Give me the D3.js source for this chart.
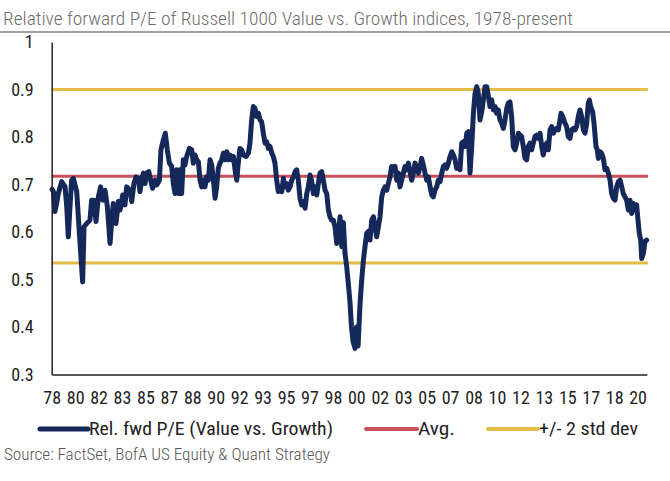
<!DOCTYPE html>
<html>
<head>
<meta charset="utf-8">
<script src="https://cdn.jsdelivr.net/npm/d3@7"></script>
<style>
  html, body { margin: 0; padding: 0; background: #fff; }
  svg { display: block; }
  text { font-family: "Liberation Sans Narrow", "Roboto Condensed", "DejaVu Sans Condensed", "Liberation Sans", sans-serif; }
</style>
</head>
<body>
<svg id="chart" width="670" height="481"></svg>
<script>
// ---- Data ----
const titleText = "Relative forward P/E of Russell 1000 Value vs. Growth indices, 1978-present";
const sourceText = "Source: FactSet, BofA US Equity & Quant Strategy";

// Decimal years of each observation
const years = [
  1978.78,1978.87,1978.98,1979.10,1979.22,1979.46,1979.70,1979.82,1979.93,1980.05,1980.17,1980.29,1980.53,1980.72,1980.95,
  1981.05,1981.24,1981.47,1981.59,1981.76,1981.90,1982.07,1982.23,1982.38,1982.54,1982.71,1982.90,1983.02,1983.13,1983.32,
  1983.49,1983.61,1983.80,1983.96,1984.08,1984.32,1984.44,1984.60,1984.75,1984.91,1985.03,1985.15,1985.27,1985.39,1985.50,
  1985.65,1985.79,1985.93,1986.10,1986.22,1986.41,1986.52,1986.69,1986.83,1986.97,1987.12,1987.28,1987.40,1987.52,1987.64,
  1987.76,1987.88,1987.99,1988.11,1988.23,1988.35,1988.54,1988.71,1988.82,1988.94,1989.06,1989.18,1989.30,1989.42,1989.54,
  1989.65,1989.77,1989.89,1990.01,1990.13,1990.25,1990.37,1990.48,1990.60,1990.72,1990.84,1990.96,1991.08,1991.20,1991.31,
  1991.43,1991.55,1991.67,1991.79,1991.91,1992.02,1992.14,1992.26,1992.38,1992.57,1992.74,1992.85,1992.97,1993.09,1993.21,
  1993.33,1993.45,1993.57,1993.68,1993.80,1993.92,1994.04,1994.16,1994.28,1994.40,1994.51,1994.63,1994.75,1994.87,1994.99,
  1995.11,1995.23,1995.34,1995.46,1995.58,1995.70,1995.82,1995.94,1996.06,1996.17,1996.29,1996.41,1996.53,1996.65,1996.77,
  1996.89,1997.00,1997.12,1997.24,1997.36,1997.48,1997.60,1997.71,1997.83,1997.95,1998.07,1998.19,1998.31,1998.43,1998.54,
  1998.66,1998.78,1998.90,1999.02,1999.14,1999.26,1999.38,1999.49,1999.61,1999.73,1999.85,1999.97,2000.07,2000.18,2000.32,
  2000.43,2000.54,2000.68,2000.80,2000.92,2001.03,2001.15,2001.27,2001.39,2001.51,2001.63,2001.75,2001.86,2001.98,2002.10,
  2002.22,2002.34,2002.46,2002.58,2002.69,2002.81,2002.93,2003.05,2003.17,2003.29,2003.41,2003.52,2003.64,2003.76,2003.88,
  2004.00,2004.12,2004.23,2004.35,2004.47,2004.59,2004.71,2004.83,2004.95,2005.06,2005.18,2005.30,2005.42,2005.54,2005.66,
  2005.78,2005.89,2006.01,2006.13,2006.25,2006.37,2006.49,2006.61,2006.72,2006.84,2006.96,2007.08,2007.20,2007.32,2007.44,
  2007.55,2007.67,2007.79,2007.91,2008.03,2008.15,2008.27,2008.38,2008.50,2008.62,2008.74,2008.86,2008.98,2009.09,2009.21,
  2009.33,2009.45,2009.57,2009.69,2009.81,2009.92,2010.04,2010.16,2010.28,2010.39,2010.51,2010.63,2010.75,2010.87,2010.99,
  2011.11,2011.22,2011.34,2011.46,2011.58,2011.70,2011.82,2011.94,2012.05,2012.17,2012.29,2012.41,2012.53,2012.65,2012.77,
  2012.88,2013.00,2013.12,2013.24,2013.36,2013.48,2013.60,2013.71,2013.83,2013.95,2014.07,2014.19,2014.31,2014.43,2014.54,
  2014.66,2014.78,2014.90,2014.97,2015.09,2015.18,2015.25,2015.37,2015.49,2015.61,2015.73,2015.85,2015.97,2016.08,2016.20,
  2016.32,2016.44,2016.56,2016.68,2016.80,2016.91,2016.99,2017.08,2017.22,2017.32,2017.46,2017.55,2017.63,2017.74,2017.86,
  2017.98,2018.10,2018.22,2018.34,2018.46,2018.57,2018.69,2018.81,2018.93,2019.05,2019.17,2019.29,2019.40,2019.52,2019.64,
  2019.76,2019.88,2020.00,2020.11,2020.23,2020.35,2020.47,2020.54,2020.64,2020.71,2020.83,2020.94,2021.06
];
// Relative forward P/E (Value vs. Growth)
const relPE = [
  0.690,0.685,0.643,0.660,0.681,0.706,0.695,0.653,0.590,0.653,0.709,0.713,0.685,0.597,0.495,
  0.611,0.618,0.625,0.667,0.667,0.622,0.674,0.695,0.667,0.688,0.653,0.576,0.625,0.660,0.618,
  0.664,0.646,0.678,0.657,0.695,0.688,0.664,0.702,0.716,0.713,0.685,0.709,0.724,0.702,0.724,
  0.727,0.709,0.692,0.709,0.699,0.709,0.773,0.794,0.808,0.773,0.745,0.738,0.702,0.681,0.731,
  0.681,0.731,0.681,0.752,0.741,0.759,0.776,0.773,0.745,0.762,0.752,0.748,0.709,0.695,0.709,
  0.695,0.716,0.709,0.752,0.741,0.709,0.671,0.695,0.734,0.745,0.752,0.766,0.752,0.769,0.752,
  0.762,0.752,0.759,0.731,0.709,0.745,0.776,0.773,0.762,0.759,0.766,0.787,0.836,0.864,0.860,
  0.843,0.850,0.836,0.832,0.808,0.787,0.790,0.776,0.780,0.766,0.759,0.745,0.709,0.685,0.695,
  0.685,0.713,0.695,0.702,0.688,0.695,0.709,0.716,0.727,0.731,0.709,0.671,0.657,0.664,0.650,
  0.681,0.695,0.720,0.706,0.681,0.695,0.678,0.702,0.724,0.727,0.709,0.688,0.681,0.646,0.632,
  0.625,0.625,0.611,0.576,0.597,0.632,0.569,0.620,0.555,0.527,0.490,0.450,0.400,0.370,0.355,
  0.400,0.360,0.450,0.500,0.541,0.569,0.597,0.601,0.583,0.625,0.632,0.611,0.590,0.611,0.632,
  0.674,0.688,0.695,0.688,0.702,0.716,0.738,0.731,0.738,0.709,0.724,0.695,0.709,0.724,0.738,
  0.731,0.745,0.727,0.709,0.724,0.745,0.734,0.724,0.738,0.755,0.741,0.724,0.709,0.716,0.695,
  0.678,0.674,0.688,0.695,0.709,0.706,0.724,0.738,0.741,0.734,0.745,0.759,0.769,0.762,0.752,
  0.734,0.738,0.731,0.787,0.790,0.780,0.808,0.811,0.724,0.780,0.850,0.892,0.906,0.892,0.836,
  0.853,0.878,0.906,0.906,0.885,0.864,0.878,0.857,0.864,0.850,0.857,0.836,0.829,0.818,0.836,
  0.860,0.871,0.874,0.843,0.780,0.773,0.787,0.808,0.804,0.801,0.780,0.755,0.752,0.780,0.787,
  0.773,0.787,0.801,0.804,0.797,0.808,0.780,0.762,0.780,0.787,0.773,0.815,0.822,0.808,0.815,
  0.818,0.815,0.836,0.850,0.843,0.836,0.829,0.822,0.801,0.797,0.815,0.818,0.815,0.822,0.843,
  0.857,0.843,0.815,0.808,0.829,0.871,0.878,0.864,0.853,0.829,0.780,0.773,0.755,0.769,0.766,
  0.755,0.731,0.734,0.724,0.709,0.681,0.671,0.667,0.695,0.706,0.709,0.695,0.681,0.674,0.667,
  0.646,0.667,0.639,0.660,0.646,0.657,0.618,0.597,0.583,0.544,0.555,0.580,0.583
];
const avgValue = 0.7175;
const stdBands = [0.900, 0.535];   // +/- 2 std dev

const yTickValues = [1, 0.9, 0.8, 0.7, 0.6, 0.5, 0.4, 0.3];
const yTickLabels = ["1", "0.9", "0.8", "0.7", "0.6", "0.5", "0.4", "0.3"];
const xTickLabels = ["78","80","82","83","85","87","88","90","92","93","95","97","98",
                     "00","02","03","05","07","08","10","12","13","15","17","18","20"];
const xTickStart = 1978.75;        // first labelled period (Oct 1978)
const xTickStepMonths = 20;        // one label every 20 months
const xDomain = [1978.75, 2021.08];

const legendItems = [
  { label: "Rel. fwd P/E (Value vs. Growth)", color: "#14295a", width: 5 },
  { label: "Avg.", color: "#c9505a", width: 4 },
  { label: "+/- 2 std dev", color: "#e3bb47", width: 4 }
];

// ---- Layout ----
const svg = d3.select("#chart");
const plot = { left: 51.7, right: 646.9, top: 42, bottom: 374.5 };

svg.append("rect").attr("width", 670).attr("height", 481).attr("fill", "#fff");

const x = d3.scaleLinear().domain(xDomain).range([plot.left, plot.right]);
const y = d3.scaleLinear().domain([0.3, 1]).range([plot.bottom, plot.top]);

// Title + rule
svg.append("text")
  .attr("x", 3).attr("y", 25)
  .attr("font-size", 19)
  .attr("font-weight", 300)
  .attr("fill", "#6e6e6e")
  .attr("textLength", 570)
  .attr("lengthAdjust", "spacingAndGlyphs")
  .text(titleText);
svg.append("line")
  .attr("x1", 0).attr("x2", 670).attr("y1", 32).attr("y2", 32)
  .attr("stroke", "#a0a0a0").attr("stroke-width", 2);

// Reference lines
const refLines = [
  { v: stdBands[0], color: legendItems[2].color },
  { v: stdBands[1], color: legendItems[2].color },
  { v: avgValue, color: legendItems[1].color }
];
svg.append("g").selectAll("line").data(refLines).join("line")
  .attr("x1", plot.left).attr("x2", plot.right + 1)
  .attr("y1", d => y(d.v)).attr("y2", d => y(d.v))
  .attr("stroke", d => d.color).attr("stroke-width", 3);

// Main series
const series = years.map((t, i) => ({ t, v: relPE[i] }));
const line = d3.line().x(d => x(d.t)).y(d => y(d.v)).curve(d3.curveLinear);
svg.append("path")
  .datum(series)
  .attr("d", line)
  .attr("fill", "none")
  .attr("stroke", legendItems[0].color)
  .attr("stroke-width", 5)
  .attr("stroke-linejoin", "round")
  .attr("stroke-linecap", "round");

// Y axis
const yAxis = d3.axisLeft(y)
  .tickValues(yTickValues)
  .tickFormat((d, i) => yTickLabels[i])
  .tickSize(0).tickPadding(18);
const gy = svg.append("g").attr("transform", `translate(${plot.left},0)`).call(yAxis);
gy.select(".domain").attr("stroke", "#222").attr("stroke-width", 1.5);
gy.selectAll("text").attr("font-size", 18).attr("fill", "#222").attr("font-family", null);

// X axis
const xTickValues = xTickLabels.map((_, i) => xTickStart + i * xTickStepMonths / 12);
const xAxis = d3.axisBottom(x)
  .tickValues(xTickValues)
  .tickFormat((d, i) => xTickLabels[i])
  .tickSize(0).tickPadding(17);
const gx = svg.append("g").attr("transform", `translate(0,${plot.bottom})`).call(xAxis);
gx.select(".domain").attr("stroke", "#222").attr("stroke-width", 1.5);
gx.selectAll("text").attr("font-size", 18).attr("fill", "#222").attr("font-family", null);

// Legend
const legendPos = [
  { x1: 40, x2: 88, w: 244 },
  { x1: 366, x2: 417, w: 37 },
  { x1: 488, x2: 538, w: 99 }
];
const lg = svg.append("g");
legendItems.forEach((item, i) => {
  const p = legendPos[i];
  lg.append("line")
    .attr("x1", p.x1).attr("x2", p.x2).attr("y1", 429).attr("y2", 429)
    .attr("stroke", item.color).attr("stroke-width", item.width)
    .attr("stroke-linecap", "round");
  lg.append("text")
    .attr("x", p.x2 + 1).attr("y", 435)
    .attr("font-size", 19).attr("fill", "#222")
    .attr("textLength", p.w)
    .attr("lengthAdjust", "spacingAndGlyphs")
    .text(item.label);
});

// Source
svg.append("text")
  .attr("x", 4).attr("y", 460)
  .attr("font-size", 16).attr("font-weight", 300).attr("fill", "#555")
  .attr("textLength", 326)
  .attr("lengthAdjust", "spacingAndGlyphs")
  .text(sourceText);
</script>
</body>
</html>
